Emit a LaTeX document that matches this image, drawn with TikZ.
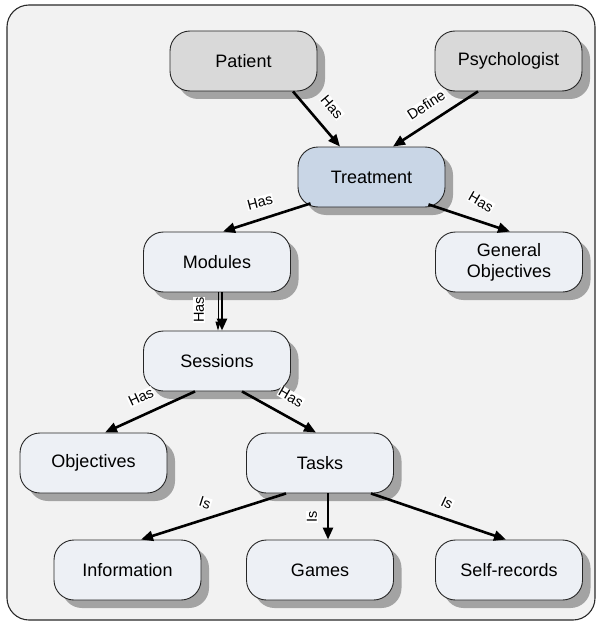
\documentclass[tikz,border=0pt]{standalone}
\usepackage{fontspec}
\setmainfont{Liberation Sans}
\usetikzlibrary{arrows.meta,shadows}

\definecolor{panelbg}{HTML}{F2F2F2}
\definecolor{framecol}{HTML}{2A2A2A}
\definecolor{actorfill}{HTML}{D9D9D9}
\definecolor{corefill}{HTML}{C9D6E6}
\definecolor{itemfill}{HTML}{EDF0F5}
\definecolor{shadowcol}{HTML}{A3A3A3}

\tikzset{
  concept/.style={
    draw=black!85, line width=0.9pt, rounded corners=20pt,
    minimum width=147pt, minimum height=60pt, inner sep=0pt,
    align=center, font=\fontsize{18}{21}\selectfont,
    drop shadow={shadow xshift=8pt, shadow yshift=-8pt, fill=shadowcol, opacity=1}},
  actor/.style={concept, fill=actorfill},
  core/.style={concept, fill=corefill},
  item/.style={concept, fill=itemfill},
  link/.style={line width=2.6pt, -{Triangle[length=12pt,width=10pt]}},
  thinlink/.style={line width=0.9pt, -{Triangle[length=9pt,width=5pt]}},
  tag/.style={fill=white, inner sep=0.6pt, font=\fontsize{14.5}{15}\selectfont}
}

\begin{document}
\begin{tikzpicture}[x=1pt, y=-1pt]
  % page and panel
  \useasboundingbox (0,0) rectangle (597,623);
  \draw[framecol, line width=1.1pt, fill=panelbg, rounded corners=22pt]
    (7,5) rectangle (595,620);

  % concepts
  \node[actor] (patient) at (243.5,61) {Patient};
  \node[actor] (psych)   at (508.5,61) {Psychologist};
  \node[core]  (treat)   at (371.5,177) {Treatment};
  \node[item]  (modules) at (217,262) {Modules};
  \node[item]  (genobj)  at (509,262) {General\\Objectives};
  \node[item]  (sessions) at (217,361) {Sessions};
  \node[item]  (objectives) at (93.5,463) {Objectives};
  \node[item]  (tasks)   at (320,463) {Tasks};
  \node[item]  (info)    at (127.5,570) {Information};
  \node[item]  (games)   at (320,570) {Games};
  \node[item]  (selfrec) at (509,570) {Self-records};

  % relations
  \draw[link] ([xshift=49.5pt]patient.south) -- ([xshift=-31.5pt]treat.north);
  \draw[link] ([xshift=-30.5pt]psych.south) -- ([xshift=21.5pt]treat.north);
  \draw[link] ([shift={(-61pt,4pt)}]treat.south) -- ([xshift=6pt]modules.north);
  \draw[link] ([shift={(57pt,3pt)}]treat.south) -- ([xshift=1pt]genobj.north);
  \draw[thinlink] ([xshift=1pt]modules.south) -- ([xshift=1pt]sessions.north);
  \draw[link] ([xshift=5pt]modules.south) -- ([xshift=5pt]sessions.north);
  \draw[link] ([xshift=-22pt]sessions.south) -- ([xshift=11.5pt]objectives.north);
  \draw[link] ([xshift=25pt]sessions.south) -- ([xshift=-4pt]tasks.north);
  \draw[link] ([xshift=-34pt]tasks.south) -- ([xshift=13.5pt]info.north);
  \draw[link] ([xshift=8pt]tasks.south) -- ([xshift=8pt]games.north);
  \draw[link] ([xshift=51pt]tasks.south) -- ([xshift=-3pt]selfrec.north);

  % relation names
  \node[tag, rotate=-50] (t1) at (332,107) {Has};
  \node[tag, rotate=33]  (t2) at (426,105) {Define};
  \node[tag, rotate=15]  (t3) at (260,202) {Has};
  \node[tag, rotate=-30] (t4) at (481,202) {Has};
  \node[tag, rotate=90]  (t5) at (199,310) {Has};
  \node[tag, rotate=25]  (t6) at (141,397) {Has};
  \node[tag, rotate=-30] (t7) at (291,397) {Has};
  \node[tag, rotate=-18] (t8) at (205,503) {Is};
  \node[tag, rotate=90]  (t9) at (312,517) {Is};
  \node[tag, rotate=-25] (t10) at (447,503) {Is};
\end{tikzpicture}
\end{document}
